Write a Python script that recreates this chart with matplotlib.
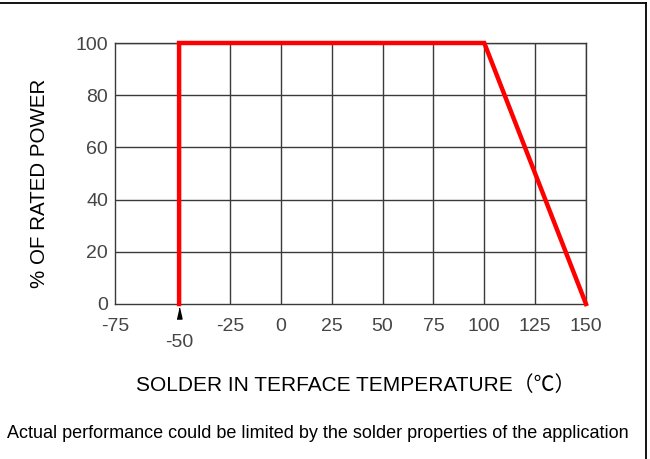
import matplotlib
matplotlib.use("Agg")
import matplotlib.pyplot as plt
from matplotlib.lines import Line2D
from matplotlib.transforms import offset_copy

# derating curve (temperature in C, % of rated power)
temp = [-50, -50, 100, 150]
power = [0, 100, 100, 0]

x_ticks = [-25, 0, 25, 50, 75, 100, 125, 150]
x_left = -81.5           # drawing's left edge, labelled -75
x_left_label = "-75"
x_marker = -50           # staggered tick with the small arrow
y_ticks = [0, 20, 40, 60, 80, 100]

ylabel = "% OF RATED POWER"
xlabel = "SOLDER IN TERFACE TEMPERATURE（℃）"
note = "Actual performance could be limited by the solder properties of the application"

W, H = 650, 459
fig = plt.figure(figsize=(W / 100, H / 100), dpi=100)
ax = fig.add_axes([115 / W, 1 - 304 / H, (586 - 115) / W, (304 - 43) / H])

grid_c = "#3a3a3a"
tick_fam = ["Liberation Sans", "DejaVu Sans"]

ax.set_xlim(x_left, 150)
ax.set_ylim(0, 100)

# grid lines
for x in x_ticks:
    ax.axvline(x, color=grid_c, lw=1.0, zorder=1)
for y in y_ticks[1:]:
    ax.axhline(y, color=grid_c, lw=1.0, zorder=1)
for s in ax.spines.values():
    s.set_color(grid_c)
    s.set_linewidth(1.0)

ax.plot(temp, power, color="#ff0000", lw=3.2, zorder=3, clip_on=False,
        solid_joinstyle="miter")

# ticks
ax.set_xticks([x_left] + x_ticks)
ax.set_xticklabels([x_left_label] + [str(v) for v in x_ticks])
ax.set_xticks([x_marker], minor=True)
ax.set_xticklabels([str(x_marker)], minor=True)
ax.tick_params(axis="x", which="major", length=0, pad=10)
ax.tick_params(axis="x", which="minor", length=0, pad=21.5)
ax.set_yticks(y_ticks)
ax.set_yticklabels([str(v) for v in y_ticks])
ax.tick_params(axis="y", length=0, pad=5)
for lab in ax.get_xticklabels() + ax.get_xticklabels(minor=True) + ax.get_yticklabels():
    lab.set_fontfamily(tick_fam)
    lab.set_fontsize(14)
    lab.set_color("#454545")

# small arrow under -50
tr = offset_copy(ax.transData, fig=fig, x=0, y=-9, units="dots")
ax.plot([x_marker], [0], marker=[(-0.45, -1), (0.45, -1), (0, 1)], ms=8,
        color="black", transform=tr, clip_on=False, zorder=4)

fig.text(40 / W, 1 - 183 / H, ylabel, rotation=90, ha="center", va="center",
         fontsize=14.8, family=["Liberation Sans", "DejaVu Sans"])
fig.text(356 / W, 1 - 385 / H, xlabel, ha="center", va="center",
         fontsize=15, family=["Liberation Sans", "Noto Sans CJK SC"])
fig.text(318 / W, 1 - 433 / H, note, ha="center", va="center",
         fontsize=13, family=["Liberation Sans", "DejaVu Sans"])

# outer frame (top and right edges)
fig.add_artist(Line2D([0, 646 / W], [1 - 3 / H, 1 - 3 / H], color="black", lw=1.3,
                      transform=fig.transFigure))
fig.add_artist(Line2D([646 / W, 646 / W], [1 - 3 / H, 0], color="black", lw=1.3,
                      transform=fig.transFigure))

fig.savefig("out.png", dpi=100)
